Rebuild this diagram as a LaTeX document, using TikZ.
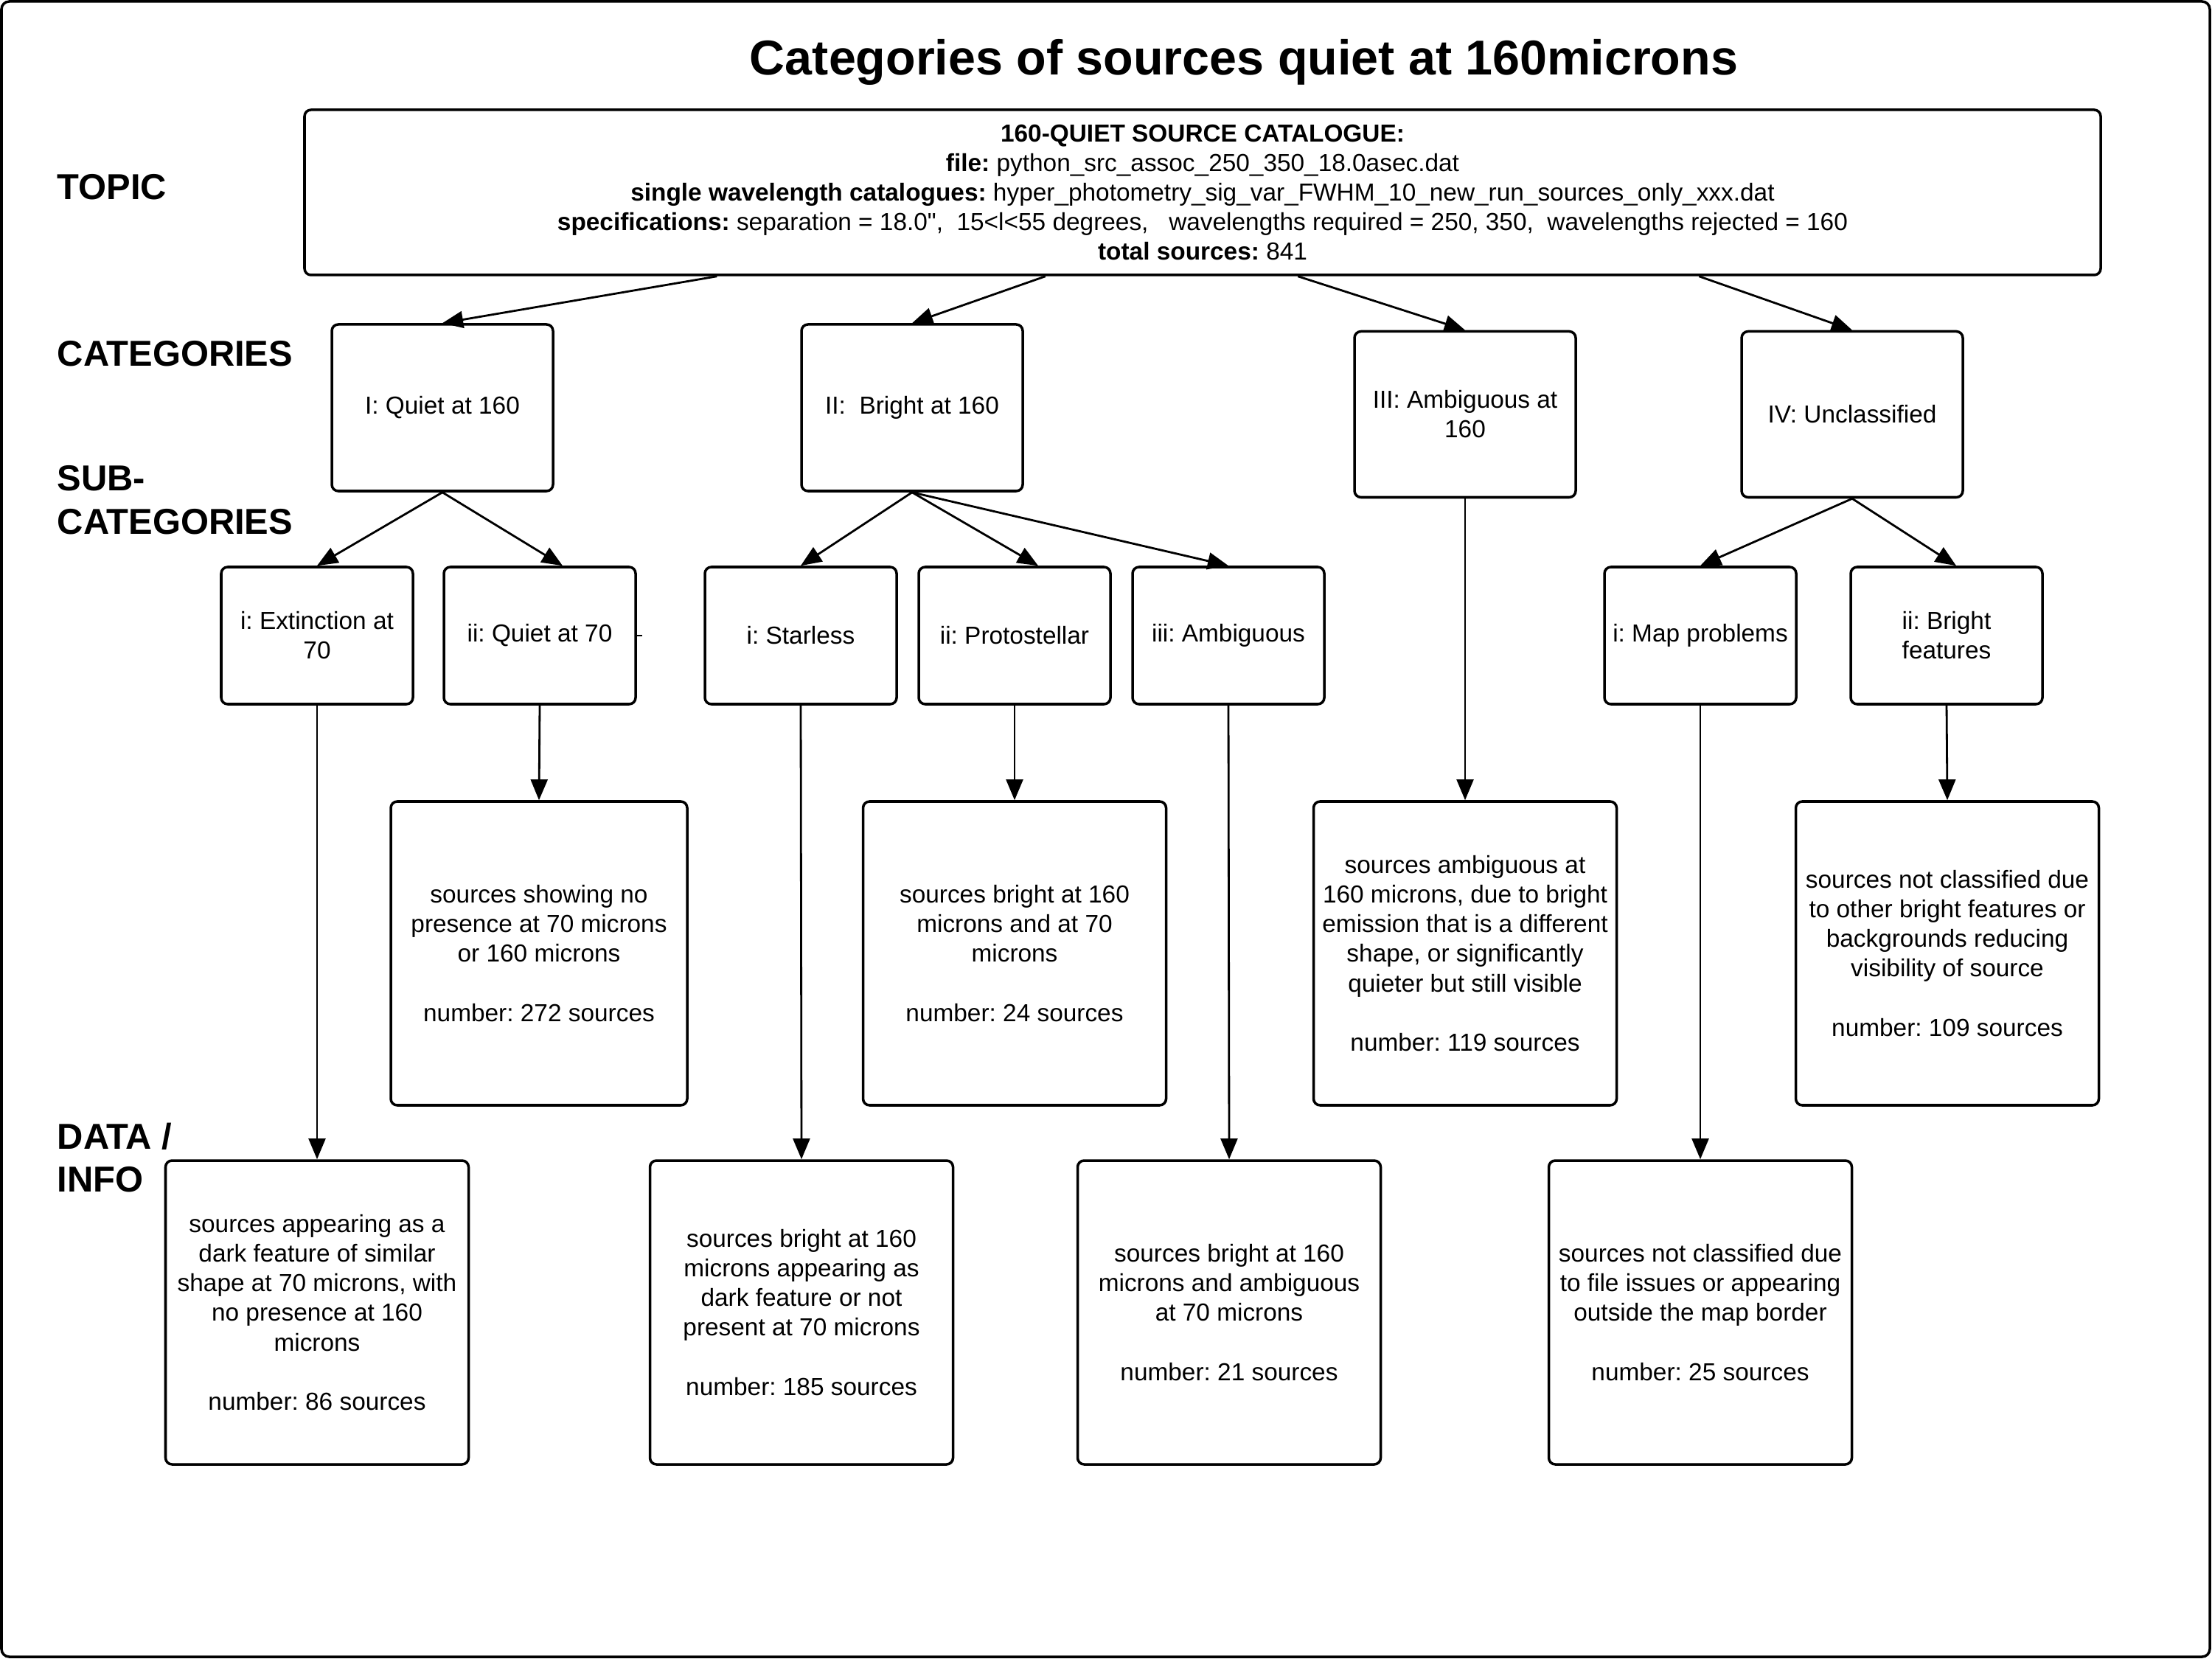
\documentclass[tikz,border=0pt]{standalone}
\usepackage{fontspec}
\setmainfont{Liberation Sans}[Ligatures=TeXOff]
\usepackage{tikz}
\usetikzlibrary{calc,arrows.meta}
\frenchspacing

\begin{document}
\begin{tikzpicture}[
  line width=1pt,
  box/.style={draw, rounded corners=2.5pt, line width=1pt, align=center, inner sep=2pt,
    font=\fontsize{9.5}{11.4}\selectfont},
  catbox/.style={box, minimum width=3cm, minimum height=2.25cm},
  subbox/.style={box, minimum width=2.6cm, minimum height=1.86cm},
  databox/.style={box, minimum width=4.11cm, minimum height=4.12cm},
  level/.style={anchor=west, align=left, inner sep=0pt, font=\fontsize{13.9}{16.7}\selectfont\bfseries},
  link/.style={-{Triangle[length=8pt,width=6.5pt]}, line width=0.8pt},
]

  \useasboundingbox (0, 0) rectangle (30, -22.5);
  \draw[rounded corners=3pt] (0.02, -0.02) rectangle (29.97, -22.47);

  \node[font=\fontsize{18.9}{22}\selectfont\bfseries] (title) at (16.87, -0.84)
    {Categories of sources quiet at 160microns};

  \node[box, minimum width=24.36cm, minimum height=2.24cm] (top) at (16.31, -2.61)
    {\textbf{160-QUIET SOURCE CATALOGUE:}\\
     \textbf{file:} python\_src\_assoc\_250\_350\_18.0asec.dat\\
     \textbf{single wavelength catalogues:} hyper\_photometry\_sig\_var\_FWHM\_10\_new\_run\_sources\_only\_xxx.dat\\
     \textbf{specifications:} separation = 18.0",\ \ 15<l<55 degrees,\ \ \ wavelengths required = 250, 350,\ \ wavelengths rejected = 160\\
     \textbf{total sources:} 841};

  \node[level] (topic) at (0.76, -2.54) {TOPIC};
  \node[level] (cats) at (0.76, -4.80) {CATEGORIES};
  \node[level] (subcats) at (0.76, -6.78) {SUB-\\CATEGORIES};
  \node[level] (info) at (0.76, -15.70) {DATA /\\INFO};

  \node[catbox, minimum height=2.26cm] (catI) at (6.00, -5.53) {I: Quiet at 160};
  \node[catbox, minimum height=2.26cm] (catII) at (12.37, -5.53) {II:\ \ Bright at 160};
  \node[catbox] (catIII) at (19.87, -5.62) {III: Ambiguous at\\160};
  \node[catbox] (catIV) at (25.12, -5.62) {IV: Unclassified};

  \node[subbox] (si) at (4.30, -8.62) {i: Extinction at\\70};
  \node[subbox] (sii) at (7.32, -8.62) {ii: Quiet at 70};
  \node[subbox] (sbi) at (10.86, -8.62) {i: Starless};
  \node[subbox] (sbii) at (13.76, -8.62) {ii: Protostellar};
  \node[subbox] (sbiii) at (16.66, -8.62) {iii: Ambiguous};
  \node[subbox] (sui) at (23.06, -8.62) {i: Map problems};
  \node[subbox] (suii) at (26.40, -8.62) {ii: Bright\\features};

  \node[databox, minimum width=4.02cm] (dqii) at (7.31, -12.93)
    {sources showing no\\presence at 70 microns\\or 160 microns\\[11.4pt]number: 272 sources};
  \node[databox] (dbii) at (13.76, -12.93)
    {sources bright at 160\\microns and at 70\\microns\\[11.4pt]number: 24 sources};
  \node[databox] (damb) at (19.87, -12.93)
    {sources ambiguous at\\160 microns, due to bright\\emission that is a different\\shape, or significantly\\quieter but still visible\\[11.4pt]number: 119 sources};
  \node[databox] (duii) at (26.41, -12.93)
    {sources not classified due\\to other bright features or\\backgrounds reducing\\visibility of source\\[11.4pt]number: 109 sources};

  \node[databox] (dqi) at (4.30, -17.80)
    {sources appearing as a\\dark feature of similar\\shape at 70 microns, with\\no presence at 160\\microns\\[11.4pt]number: 86 sources};
  \node[databox] (dbi) at (10.87, -17.80)
    {sources bright at 160\\microns appearing as\\dark feature or not\\present at 70 microns\\[11.4pt]number: 185 sources};
  \node[databox] (dbiii) at (16.67, -17.80)
    {sources bright at 160\\microns and ambiguous\\at 70 microns\\[11.4pt]number: 21 sources};
  \node[databox] (dui) at (23.06, -17.80)
    {sources not classified due\\to file issues or appearing\\outside the map border\\[11.4pt]number: 25 sources};

  \draw[link] ($(top.south west)!0.230!(top.south east)$) -- (catI.north);
  \draw[link] ($(top.south west)!0.4126!(top.south east)$) -- (catII.north);
  \draw[link] ($(top.south west)!0.553!(top.south east)$) -- (catIII.north);
  \draw[link] ($(top.south west)!0.776!(top.south east)$) -- (catIV.north);

  \draw[link] (catI.south) -- (si.north);
  \draw[link] (catI.south) -- ([xshift=0.31cm]sii.north);
  \draw[link] (catII.south) -- (sbi.north);
  \draw[link] (catII.south) -- ([xshift=0.32cm]sbii.north);
  \draw[link] (catII.south) -- (sbiii.north);
  \draw[link] (catIV.south) -- (sui.north);
  \draw[link] (catIV.south) -- ([xshift=0.13cm]suii.north);

  \foreach \a/\b in {si/dqi, sii/dqii, sbi/dbi, sbii/dbii, sbiii/dbiii, catIII/damb, sui/dui, suii/duii}
    \draw[link] (\a.south) -- (\b.north);

  \draw[line width=0.4pt] (sii.east) -- ++(0.07, 0);
\end{tikzpicture}
\end{document}
